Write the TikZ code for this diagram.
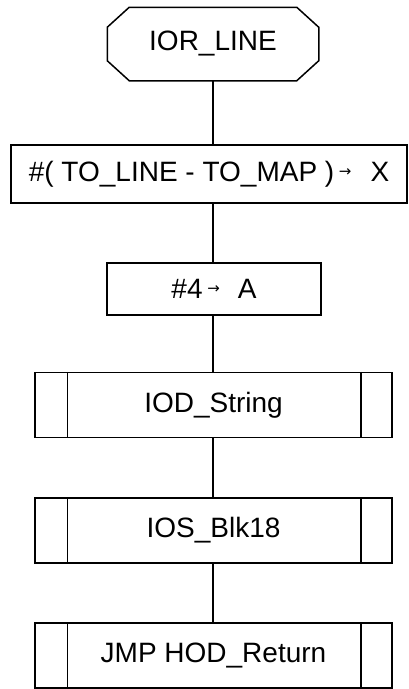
\documentclass[tikz,border=0pt]{standalone}
\usepackage{fontspec}
\setmainfont{Liberation Sans}
\newfontfamily\symfont{DejaVu Sans}

\newcommand{\smallarr}{{\symfont\fontsize{15}{15}\selectfont\raisebox{5pt}{→}}}

\begin{document}
\begin{tikzpicture}[x=1pt, y=-1pt, line width=1.5pt,
  term/.style={rectangle, minimum width=210pt, minimum height=72pt, inner sep=0pt},
  proc/.style={draw, rectangle, inner sep=0pt},
  subproc/.style={draw, rectangle, minimum width=357pt, minimum height=65pt, inner sep=0pt},
  font=\fontsize{28}{32}\selectfont]
\useasboundingbox (0,0) rectangle (408,689);
\coordinate (spine) at (213,0);
\node[term] (ior) at (213,44) {IOR\_LINE};
\draw ([xshift=22pt]ior.north west) -- ([xshift=-22pt]ior.north east)
  -- ([yshift=-20pt]ior.north east) -- ([yshift=20pt]ior.south east)
  -- ([xshift=-22pt]ior.south east) -- ([xshift=22pt]ior.south west)
  -- ([yshift=20pt]ior.south west) -- ([yshift=-20pt]ior.north west) -- cycle;
\node[proc, minimum width=396pt, minimum height=58pt] (tox) at (209,174) {\#( TO\_LINE - TO\_MAP )\,\smallarr\hspace{19pt}X};
\node[proc, minimum width=214pt, minimum height=52pt] (fourA) at (214,289) {\#4\,\smallarr\hspace{18pt}A};
\node[subproc] (iod) at (213.5,405) {IOD\_String};
\node[subproc] (ios) at (213.5,530.5) {IOS\_Blk18};
\node[subproc] (jmp) at (213.5,655.5) {JMP HOD\_Return};
\foreach \n in {iod,ios,jmp}
  \draw ([xshift=33pt]\n.north west) -- ([xshift=33pt]\n.south west)
        ([xshift=-32pt]\n.north east) -- ([xshift=-32pt]\n.south east);
\draw (spine |- ior.south) -- (spine |- tox.north);
\draw (spine |- tox.south) -- (spine |- fourA.north);
\draw (spine |- fourA.south) -- (spine |- iod.north);
\draw (spine |- iod.south) -- (spine |- ios.north);
\draw (spine |- ios.south) -- (spine |- jmp.north);
\end{tikzpicture}
\end{document}
